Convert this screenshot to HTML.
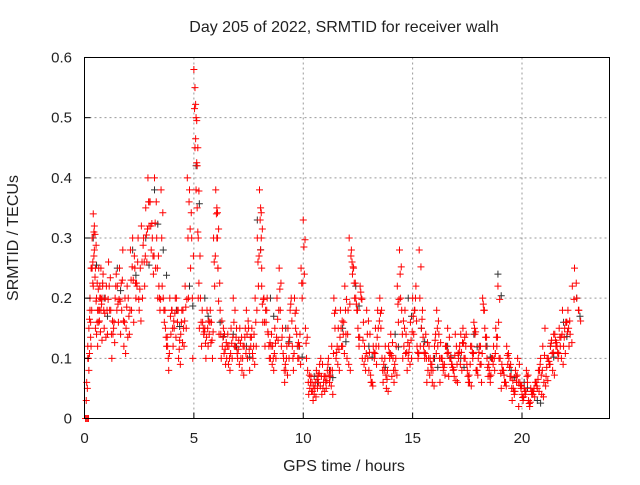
<!DOCTYPE html>
<html><head><meta charset="utf-8"><style>
body{margin:0;background:#fff;font-family:"Liberation Sans",sans-serif}
svg text{font-family:"Liberation Sans",sans-serif;font-size:15px;fill:#222}
svg text.big{font-size:16px}
</style></head><body>
<svg id="chart" width="640" height="480" xmlns="http://www.w3.org/2000/svg">
<rect width="640" height="480" fill="#fff"/>
<g id="grid"></g>
<g id="black"></g>
<g id="red"></g>
<rect x="84.5" y="57.5" width="525" height="361" fill="none" stroke="#000" stroke-width="1"/>
<g id="ticks"></g>
<text class="big" x="344" y="32" text-anchor="middle">Day 205 of 2022, SRMTID for receiver walh</text>
<text class="big" x="344" y="471" text-anchor="middle">GPS time / hours</text>
<text class="big" transform="translate(18,238) rotate(-90)" text-anchor="middle">SRMTID / TECUs</text>
</svg>
<script>
const xTicks=[0,5,10,15,20];
const yTicks=[0,0.1,0.2,0.3,0.4,0.5,0.6];
const yLabels=["0","0.1","0.2","0.3","0.4","0.5","0.6"];
const redT=[0.05,0.1,0.15,0.2,0.25,0.3,0.35,0.4,0.45,0.5,0.55,0.6,0.65,0.7,0.75,0.8,0.9,1.0,1.1,1.2,1.3,1.4,1.5,1.6,1.7,1.8,1.9,2.0,2.1,2.2,2.3,2.4,2.5,2.6,2.7,2.8,2.9,3.0,3.1,3.2,3.3,3.4,3.5,3.6,3.7,3.8,3.9,4.0,4.1,4.2,4.3,4.4,4.5,4.6,4.7,4.8,4.9,5.0,5.05,5.1,5.15,5.2,5.3,5.4,5.5,5.6,5.7,5.8,5.9,6.0,6.05,6.1,6.2,6.3,6.4,6.5,6.6,6.7,6.8,6.9,7.0,7.1,7.2,7.3,7.4,7.5,7.6,7.7,7.8,7.9,8.0,8.05,8.1,8.2,8.3,8.4,8.5,8.6,8.7,8.8,8.9,9.0,9.1,9.2,9.3,9.4,9.5,9.6,9.7,9.8,9.9,10.0,10.1,10.2,10.3,10.4,10.5,10.6,10.7,10.8,10.9,11.0,11.1,11.2,11.3,11.4,11.5,11.6,11.7,11.8,11.9,12.0,12.1,12.2,12.3,12.4,12.5,12.6,12.7,12.8,12.9,13.0,13.1,13.2,13.3,13.4,13.5,13.6,13.7,13.8,13.9,14.0,14.1,14.2,14.3,14.4,14.5,14.6,14.7,14.8,14.9,15.0,15.1,15.2,15.3,15.4,15.5,15.6,15.7,15.8,15.9,16.0,16.1,16.2,16.3,16.4,16.5,16.6,16.7,16.8,16.9,17.0,17.1,17.2,17.3,17.4,17.5,17.6,17.7,17.8,17.9,18.0,18.1,18.2,18.3,18.4,18.5,18.6,18.7,18.8,18.9,19.0,19.1,19.2,19.3,19.4,19.5,19.6,19.7,19.8,19.9,20.0,20.1,20.2,20.3,20.4,20.5,20.6,20.7,20.8,20.9,21.0,21.1,21.2,21.3,21.4,21.5,21.6,21.7,21.8,21.9,22.0,22.1,22.2,22.3,22.4,22.5,22.6,22.7,22.8];
const redA=[0.0,0.0,0.12,0.15,0.2,0.25,0.3,0.34,0.32,0.25,0.2,0.18,0.16,0.22,0.25,0.2,0.15,0.22,0.26,0.18,0.14,0.2,0.22,0.25,0.18,0.12,0.15,0.2,0.28,0.3,0.25,0.22,0.18,0.32,0.3,0.35,0.4,0.36,0.3,0.4,0.3,0.22,0.38,0.2,0.15,0.12,0.2,0.18,0.15,0.2,0.1,0.14,0.18,0.22,0.4,0.38,0.3,0.58,0.55,0.5,0.42,0.3,0.2,0.16,0.15,0.18,0.14,0.16,0.3,0.38,0.35,0.25,0.18,0.12,0.14,0.1,0.12,0.15,0.2,0.12,0.1,0.15,0.08,0.12,0.18,0.15,0.12,0.1,0.2,0.3,0.38,0.35,0.22,0.2,0.16,0.14,0.1,0.12,0.15,0.2,0.25,0.12,0.1,0.08,0.15,0.18,0.12,0.2,0.14,0.1,0.25,0.33,0.15,0.08,0.05,0.06,0.04,0.08,0.06,0.1,0.05,0.07,0.08,0.06,0.12,0.2,0.1,0.15,0.18,0.12,0.22,0.1,0.3,0.28,0.25,0.2,0.15,0.22,0.1,0.12,0.18,0.08,0.06,0.12,0.15,0.18,0.2,0.1,0.08,0.05,0.12,0.14,0.1,0.08,0.22,0.28,0.18,0.12,0.14,0.1,0.16,0.2,0.18,0.12,0.28,0.15,0.12,0.14,0.08,0.1,0.06,0.12,0.18,0.14,0.1,0.08,0.12,0.15,0.1,0.09,0.07,0.12,0.1,0.14,0.15,0.1,0.08,0.06,0.12,0.16,0.08,0.1,0.12,0.2,0.15,0.1,0.08,0.1,0.12,0.15,0.22,0.1,0.08,0.06,0.12,0.1,0.07,0.05,0.08,0.1,0.06,0.04,0.05,0.08,0.03,0.05,0.04,0.06,0.05,0.08,0.04,0.06,0.07,0.1,0.12,0.08,0.14,0.12,0.15,0.1,0.12,0.16,0.18,0.14,0.22,0.25,0.2,0.18];
const redB=[0.06,0.1,0.08,0.18,0.12,0.25,0.22,0.28,0.15,0.14,0.12,0.25,0.2,0.18,0.13,0.24,0.2,0.14,0.18,0.1,0.16,0.24,0.16,0.14,0.28,0.2,0.22,0.14,0.18,0.16,0.2,0.3,0.25,0.2,0.22,0.26,0.32,0.28,0.24,0.25,0.2,0.18,0.22,0.16,0.12,0.08,0.14,0.12,0.2,0.16,0.13,0.18,0.12,0.15,0.2,0.25,0.1,0.45,0.38,0.35,0.2,0.15,0.12,0.14,0.1,0.12,0.18,0.1,0.22,0.3,0.25,0.14,0.1,0.15,0.09,0.14,0.08,0.1,0.12,0.15,0.13,0.1,0.12,0.15,0.1,0.08,0.15,0.14,0.12,0.22,0.28,0.25,0.16,0.12,0.2,0.1,0.14,0.08,0.1,0.13,0.18,0.15,0.06,0.12,0.1,0.2,0.08,0.15,0.1,0.14,0.2,0.24,0.1,0.04,0.07,0.03,0.06,0.05,0.09,0.04,0.07,0.05,0.1,0.08,0.04,0.15,0.12,0.08,0.12,0.16,0.14,0.18,0.08,0.24,0.2,0.18,0.12,0.2,0.16,0.08,0.1,0.14,0.06,0.1,0.09,0.12,0.15,0.06,0.12,0.08,0.1,0.07,0.06,0.12,0.16,0.2,0.1,0.18,0.08,0.12,0.1,0.14,0.22,0.1,0.12,0.18,0.1,0.06,0.12,0.08,0.1,0.14,0.12,0.06,0.1,0.09,0.12,0.07,0.1,0.08,0.14,0.06,0.12,0.08,0.1,0.14,0.06,0.12,0.1,0.14,0.08,0.12,0.06,0.18,0.12,0.07,0.06,0.1,0.08,0.12,0.1,0.05,0.08,0.06,0.09,0.07,0.03,0.04,0.06,0.02,0.05,0.03,0.04,0.06,0.02,0.04,0.05,0.06,0.08,0.1,0.12,0.15,0.1,0.09,0.13,0.14,0.12,0.1,0.12,0.18,0.15,0.16,0.12];
const blackT=[0.4,0.9,1.5,2.2,2.8,3.2,3.6,4.2,4.8,5.1,5.5,6.2,6.8,7.4,7.9,8.5,9.2,9.8,10.5,11.2,11.8,12.4,13.0,13.6,14.2,14.8,15.4,16.0,16.6,17.2,17.8,18.4,18.9,19.5,20.1,20.7,21.3,21.9,22.5];
const blackV=[0.3,0.2,0.25,0.28,0.3,0.38,0.28,0.18,0.22,0.42,0.2,0.16,0.14,0.12,0.33,0.2,0.15,0.12,0.07,0.08,0.15,0.22,0.12,0.1,0.14,0.2,0.15,0.1,0.12,0.1,0.14,0.12,0.24,0.08,0.06,0.03,0.12,0.16,0.2];
const X=v=>84.5+v*21.875, Y=v=>418.5-v*601.7;
const NS="http://www.w3.org/2000/svg";
function mk(tag,attrs,parent){const e=document.createElementNS(NS,tag);for(const k in attrs)e.setAttribute(k,attrs[k]);parent.appendChild(e);return e;}
const grid=document.getElementById('grid'),ticks=document.getElementById('ticks');
xTicks.forEach(t=>{const x=X(t);
 if(t>0){const g=mk('line',{x1:x,x2:x,y1:57.5,y2:418.5,stroke:'#999','stroke-dasharray':'2,3'},grid);
 
 }
 const tk=mk('line',{x1:x,x2:x,y1:418.5,y2:412.5,stroke:'#000'},ticks);
 
 
 const l=mk('text',{x:x,y:443,'text-anchor':'middle'},ticks);l.textContent=t;
 
 });
yTicks.forEach((t,i)=>{const y=Y(t);
 if(t>0&&t<0.6){const g=mk('line',{x1:84.5,x2:609.5,y1:y,y2:y,stroke:'#999','stroke-dasharray':'2,3'},grid);
 
 }
 const tk=mk('line',{x1:84.5,x2:90.5,y1:y,y2:y,stroke:'#000'},ticks);
 
 
 const l=mk('text',{x:72,y:y+5,'text-anchor':'end'},ticks);l.textContent=yLabels[i];
 
 });
function plus(g,t,v,c){const x=X(t),y=Y(v);
 const p=mk('path',{d:`M${x-3.5},${y}h7M${x},${y-3.5}v7`,stroke:c,'stroke-width':1,fill:'none'},g);
 
 }
const bg=document.getElementById('black'),rg=document.getElementById('red');
blackT.forEach((t,i)=>{plus(bg,t,blackV[i],'#333');plus(bg,t+0.15,blackV[i]*0.85,'#333');});
redT.forEach((t,i)=>{plus(rg,t,redA[i],'#f00');plus(rg,t+0.05,redB[i],'#f00');plus(rg,t+0.03,(redA[i]+redB[i])/2,'#f00');plus(rg,t+0.08,redA[i]*0.9,'#f00');});
</script>
</body></html>
